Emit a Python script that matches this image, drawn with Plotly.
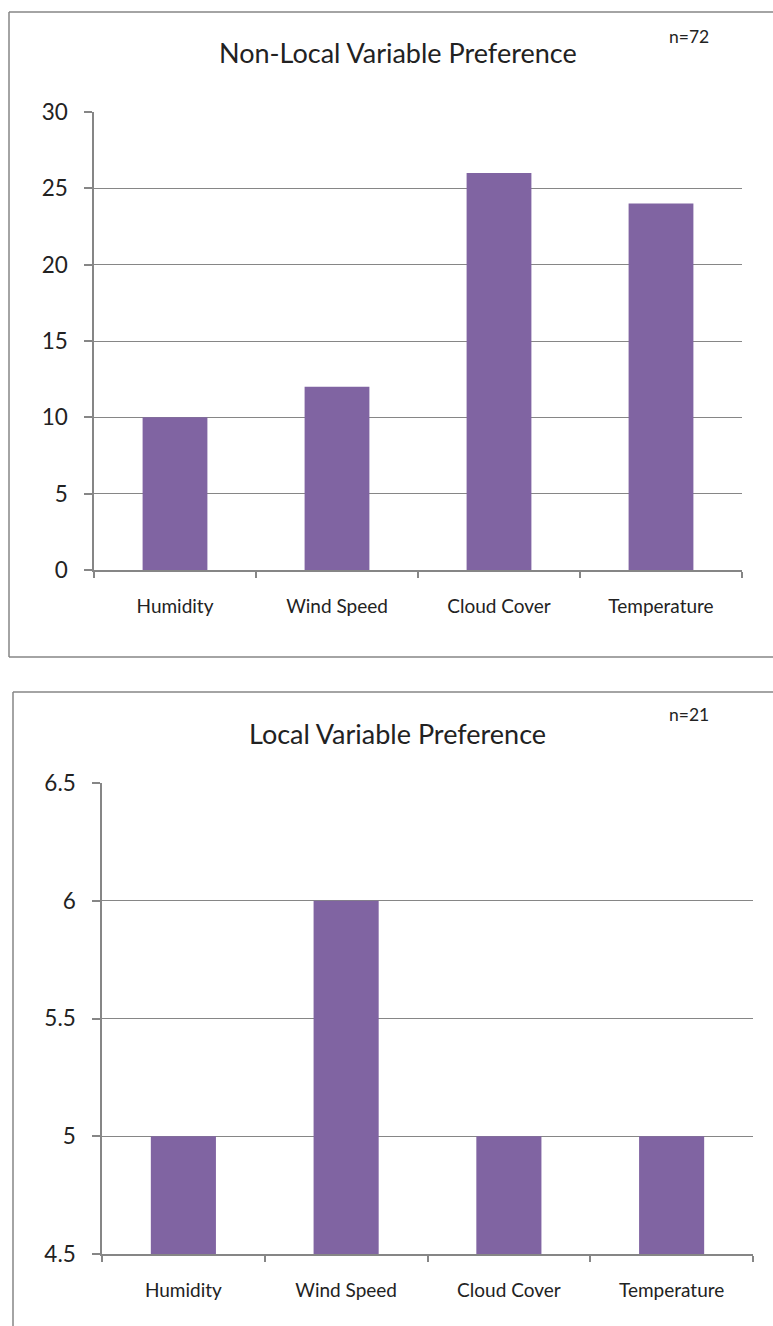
import plotly.graph_objects as go

W, H = 773, 1326

categories = ["Humidity", "Wind Speed", "Cloud Cover", "Temperature"]
nonlocal_counts = [10, 12, 26, 24]
local_counts = [5, 6, 5, 5]

nonlocal_title = "Non-Local Variable Preference"
local_title = "Local Variable Preference"
nonlocal_n = "n=72"
local_n = "n=21"

LOCAL_FLOOR = 4.5

BAR = "#8064A2"
LINE = "#868686"
TXT = "#222222"
FONT = "Lato"


def px(x):
    return x / W


def py(y):
    return 1 - y / H


fig = go.Figure()

fig.add_trace(go.Bar(x=categories, y=nonlocal_counts, marker_color=BAR,
                     marker_line_width=0, width=0.4, xaxis="x", yaxis="y",
                     showlegend=False))
# local bars rise from the axis floor up to each count
fig.add_trace(go.Bar(x=categories, y=[v - LOCAL_FLOOR for v in local_counts],
                     base=LOCAL_FLOOR, marker_color=BAR, marker_line_width=0,
                     width=0.4, xaxis="x2", yaxis="y2", showlegend=False))

xcommon = dict(type="category", showgrid=False, showline=True, linecolor=LINE,
               linewidth=1.5, ticks="outside", tickson="boundaries", ticklen=6,
               tickcolor=LINE, tickwidth=1.5,
               tickfont=dict(family=FONT, size=19, color=TXT),
               ticklabelstandoff=18, automargin=False, fixedrange=True)
ycommon = dict(showgrid=True, gridcolor=LINE, gridwidth=1.2, showline=True,
               linecolor=LINE, linewidth=1.5, ticks="outside", ticklen=8,
               tickcolor=LINE, tickwidth=1.5, zeroline=False,
               tickfont=dict(family=FONT, size=22.5, color=TXT),
               ticklabelstandoff=12, automargin=False, fixedrange=True)

fig.update_layout(
    width=W, height=H, autosize=False,
    margin=dict(l=0, r=0, t=0, b=0, autoexpand=False),
    paper_bgcolor="white", plot_bgcolor="white",
    xaxis=dict(domain=[px(94), px(742)], anchor="y", **xcommon),
    yaxis=dict(domain=[py(570), py(112)], anchor="x", range=[0, 30],
               tickvals=[0, 5, 10, 15, 20, 25, 30], **ycommon),
    xaxis2=dict(domain=[px(102), px(753)], anchor="y2", **xcommon),
    yaxis2=dict(domain=[py(1254), py(783)], anchor="x2", range=[4.5, 6.5],
                tickvals=[4.5, 5, 5.5, 6, 6.5],
                ticktext=["4.5", "5", "5.5", "6", "6.5"], **ycommon),
)

# chart frames (right edge and bottom of the lower frame run off the page)
shapes = []
for x0, y0, x1, y1 in [(9, 12, W + 2, 12), (9, 12, 9, 657), (9, 657, W + 2, 657),
                       (13, 692, W + 2, 692), (13, 692, 13, H + 2)]:
    shapes.append(dict(type="line", xref="paper", yref="paper",
                       x0=px(x0), y0=py(y0), x1=px(x1), y1=py(y1),
                       line=dict(color=LINE, width=1.5)))
fig.update_layout(shapes=shapes)

ann = []
for text, x, y, size in [(nonlocal_title, 397.5, 53, 27), (local_title, 397.5, 733, 27),
                         (nonlocal_n, 689, 36, 17.5), (local_n, 689, 714, 17.5)]:
    ann.append(dict(text=text, xref="paper", yref="paper", x=px(x), y=py(y),
                    xanchor="center", yanchor="middle", showarrow=False,
                    font=dict(family=FONT, size=size, color=TXT)))
fig.update_layout(annotations=ann)

fig.write_html("out.html")
